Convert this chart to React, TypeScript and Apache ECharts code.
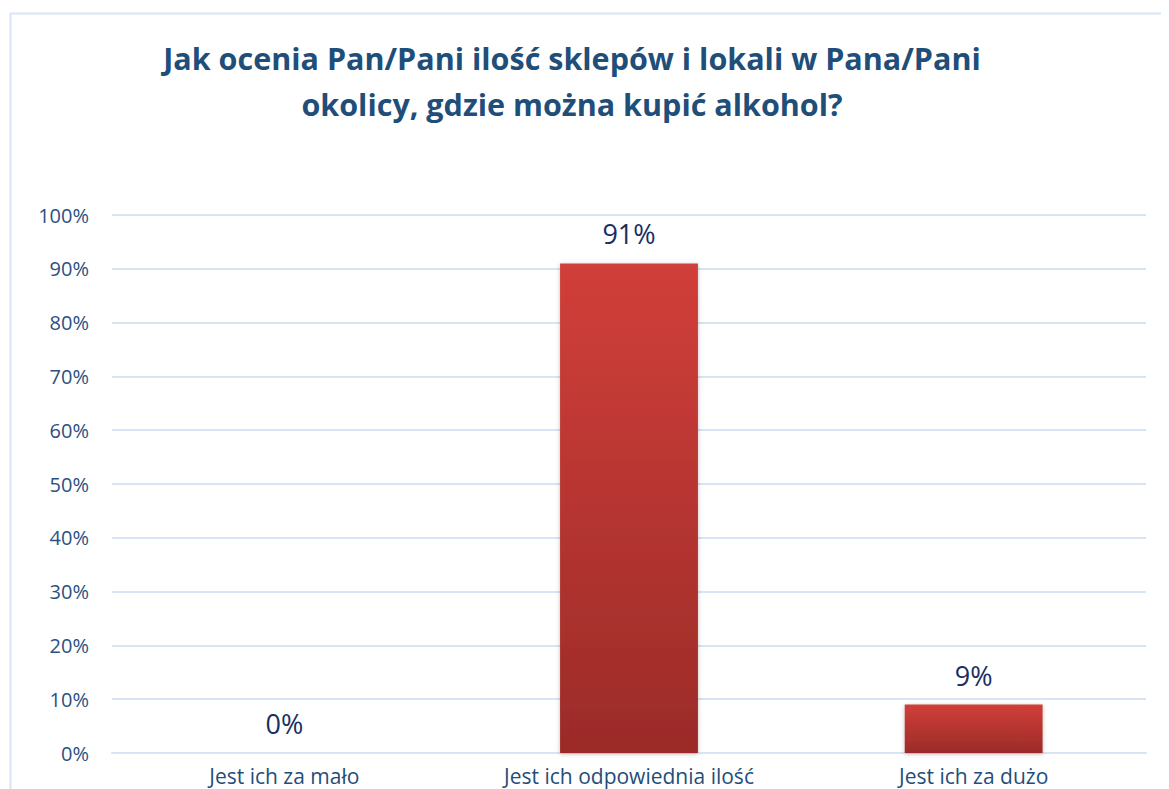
import React, { useEffect, useRef } from "react";
import * as echarts from "echarts";

const categories = ["Jest ich za mało", "Jest ich odpowiednia ilość", "Jest ich za dużo"];
const values = [0, 91, 9];
const titleText = "Jak ocenia Pan/Pani ilość sklepów i lokali w Pana/Pani\nokolicy, gdzie można kupić alkohol?";

export default function App() {
  const ref = useRef<HTMLDivElement>(null);
  useEffect(() => {
    const chart = echarts.init(ref.current!, null, { renderer: "svg" });
    chart.setOption({
      animation: false,
      backgroundColor: "#ffffff",
      graphic: [
        {
          type: "rect",
          left: 0,
          top: 3,
          shape: { x: 0, y: 0, width: 1200, height: 820 },
          style: { fill: "none", stroke: "#D6E4F4", lineWidth: 2 },
          z: -1,
        },
      ],
      title: {
        text: titleText,
        left: 559,
        top: 22,
        textAlign: "center",
        textStyle: {
          fontFamily: "Open Sans",
          fontWeight: "bold",
          fontSize: 30.5,
          lineHeight: 46,
          color: "#1F4E79",
        },
      },
      grid: { left: 104, right: 23, top: 207, bottom: 36, containLabel: false },
      xAxis: {
        type: "category",
        data: categories,
        axisLine: { show: true, lineStyle: { color: "#D6E4F4", width: 2 } },
        axisTick: { show: false },
        axisLabel: {
          margin: 12,
          fontFamily: "Open Sans",
          fontSize: 21,
          color: "#1F4E79",
        },
      },
      yAxis: {
        type: "value",
        min: 0,
        max: 100,
        interval: 10,
        axisLine: { show: false },
        axisTick: { show: false },
        splitLine: { lineStyle: { color: "#D6E4F4", width: 2 } },
        axisLabel: {
          margin: 23,
          formatter: "{value}%",
          fontFamily: "Open Sans",
          fontSize: 20,
          color: "#2A5182",
        },
      },
      series: [
        {
          type: "bar",
          data: values,
          barWidth: "40%",
          itemStyle: {
            color: new echarts.graphic.LinearGradient(0, 0, 0, 1, [
              { offset: 0, color: "#D13F3A" },
              { offset: 1, color: "#9B2B28" },
            ]),
            shadowColor: "rgba(0,0,0,0.25)",
            shadowBlur: 4,
            shadowOffsetY: 1,
          },
          label: {
            show: true,
            position: "top",
            distance: 16,
            formatter: "{c}%",
            fontFamily: "Open Sans",
            fontSize: 27,
            color: "#17305F",
          },
        },
      ],
    });
    return () => chart.dispose();
  }, []);
  return <div ref={ref} style={{ width: 1161, height: 781 }} />;
}
